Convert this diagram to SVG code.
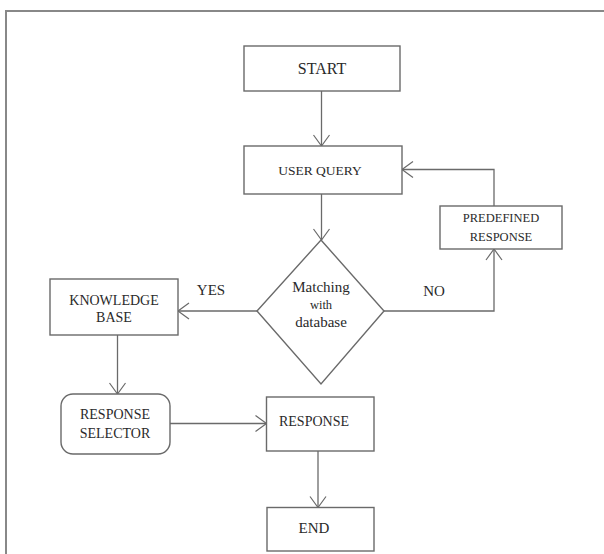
<svg xmlns="http://www.w3.org/2000/svg" width="604" height="554" viewBox="0 0 604 554">
<style>
.box{fill:#fff;stroke:#6a6a6a;stroke-width:1.4}
.ln{fill:none;stroke:#6a6a6a;stroke-width:1.3}
.t{fill:#2a2a2a;text-anchor:middle}
</style>
<defs>
<marker id="ah" viewBox="-12 -9 14 18" refX="0" refY="0" markerWidth="14" markerHeight="18" markerUnits="userSpaceOnUse" orient="auto">
<path d="M-11,-8 L0,0 L-11,8" fill="none" stroke="#6a6a6a" stroke-width="1.2"/>
</marker>
</defs>
<rect width="604" height="554" fill="#fff"/>
<path d="M6,554 V11 H604" fill="none" stroke="#888" stroke-width="2"/>
<g font-family="'Liberation Serif', 'DejaVu Serif', serif">
<g id="connectors">
<path class="ln" d="M321.5,91 V146" marker-end="url(#ah)"/>
<path class="ln" d="M321.5,194 V240" marker-end="url(#ah)"/>
<path class="ln" d="M257,311 H178" marker-end="url(#ah)"/>
<path class="ln" d="M384,311 H494 V249" marker-end="url(#ah)"/>
<path class="ln" d="M494,206 V169.5 H402" marker-end="url(#ah)"/>
<path class="ln" d="M117.5,335 V394" marker-end="url(#ah)"/>
<path class="ln" d="M170,423.5 H266.5" marker-end="url(#ah)"/>
<path class="ln" d="M318,451 V507.5" marker-end="url(#ah)"/>
<text class="t" x="211" y="295" font-size="15">YES</text>
<text class="t" x="434" y="296" font-size="15">NO</text>
</g>
<g id="start">
<rect class="box" x="244" y="46" width="156" height="45"/>
<text class="t" x="322" y="74" font-size="16">START</text>
</g>
<g id="user-query">
<rect class="box" x="244" y="146" width="158" height="48"/>
<text class="t" x="320" y="175" font-size="13.5">USER QUERY</text>
</g>
<g id="matching">
<path class="box" d="M321,240 L384,311 L321,384 L257,311 Z"/>
<text class="t" x="321" y="292" font-size="15">Matching</text>
<text class="t" x="321" y="309" font-size="12.5">with</text>
<text class="t" x="321" y="327" font-size="15">database</text>
</g>
<g id="predefined-response">
<rect class="box" x="440" y="206" width="122" height="43"/>
<text class="t" x="501" y="222" font-size="12.5">PREDEFINED</text>
<text class="t" x="501" y="241" font-size="12.5">RESPONSE</text>
</g>
<g id="knowledge-base">
<rect class="box" x="50" y="279" width="128" height="56"/>
<text class="t" x="114" y="305" font-size="14">KNOWLEDGE</text>
<text class="t" x="114" y="322" font-size="14">BASE</text>
</g>
<g id="response-selector">
<rect class="box" x="61" y="394" width="109" height="60" rx="12"/>
<text class="t" x="115" y="419" font-size="14">RESPONSE</text>
<text class="t" x="115" y="438" font-size="14">SELECTOR</text>
</g>
<g id="response">
<rect class="box" x="266.5" y="397" width="107.5" height="54"/>
<text class="t" x="314" y="426" font-size="14">RESPONSE</text>
</g>
<g id="end">
<rect class="box" x="267" y="507.5" width="107" height="43.5"/>
<text class="t" x="314" y="533" font-size="15">END</text>
</g>
</g>
</svg>
